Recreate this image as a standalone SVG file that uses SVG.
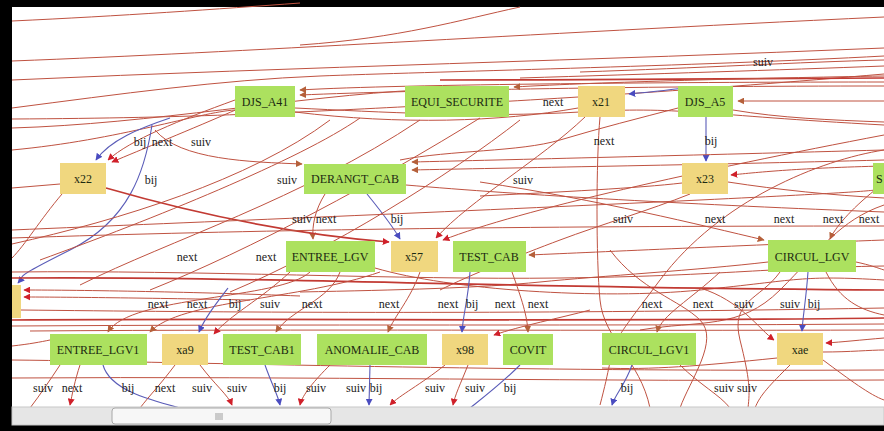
<svg xmlns="http://www.w3.org/2000/svg" width="884" height="431" viewBox="0 0 884 431">
<style>
.e{fill:none;stroke:#bf5241;stroke-width:1}
.eb{fill:none;stroke:#5a5cb8;stroke-width:1.1}
.et{fill:none;stroke:#c23a33;stroke-width:1.7}
.g{fill:#ace15f}
.y{fill:#f0d77f}
.n{font-family:"Liberation Serif","Times New Roman",serif;font-size:12px;fill:#1c2a12;text-anchor:middle}
.l{font-family:"Liberation Serif","Times New Roman",serif;font-size:12px;fill:#222;text-anchor:middle}
</style>
<defs>
<marker id="ar" viewBox="0 0 10 10" refX="9" refY="5" markerWidth="7" markerHeight="7" orient="auto" markerUnits="userSpaceOnUse"><path d="M0,0 L10,5 L0,10 z" fill="#d0202a"/></marker>
<marker id="ab" viewBox="0 0 10 10" refX="9" refY="5" markerWidth="7" markerHeight="7" orient="auto" markerUnits="userSpaceOnUse"><path d="M0,0 L10,5 L0,10 z" fill="#b5603a"/></marker>
<marker id="au" viewBox="0 0 10 10" refX="9" refY="5" markerWidth="7" markerHeight="7" orient="auto" markerUnits="userSpaceOnUse"><path d="M0,0 L10,5 L0,10 z" fill="#4a4cc0"/></marker>
</defs>
<rect x="0" y="0" width="884" height="431" fill="#000"/>
<rect x="12" y="7" width="872" height="401" fill="#fff"/>
<g id="connectors">
<path class="e" d="M12,21 C120,16 220,9 300,3"/>
<path class="e" d="M12,61 C250,52 500,35 884,17"/>
<path class="e" d="M300,45 C400,38 460,20 520,7"/>
<path class="e" d="M12,80 C300,67 600,60 884,48"/>
<path class="e" d="M12,108 C120,94 220,80 320,76 S700,66 884,56"/>
<path class="e" d="M12,119 C200,118 300,112 420,106 S700,90 884,74"/>
<path class="e" d="M580,72 C700,68 800,62 884,60"/>
<path class="e" d="M520,78 C650,74 780,70 884,66"/>
<path class="et" d="M440,80 C600,80 780,79 884,78"/>
<path class="e" d="M12,128 C150,124 300,96 420,90"/>
<path class="e" d="M884,101 L738,101" marker-end="url(#ab)"/>
<path class="e" d="M884,82 C700,82 400,84 300,90" marker-end="url(#ab)"/>
<path class="e" d="M884,86 C650,86 420,90 300,95" marker-end="url(#ab)"/>
<path class="e" d="M884,76 C760,78 600,82 514,87" marker-end="url(#ab)"/>
<path class="e" d="M295,108 C380,112 480,118 580,112 S700,115 884,125"/>
<path class="e" d="M295,112 C400,125 500,122 578,108"/>
<path class="e" d="M12,150 C120,140 200,112 235,110"/>
<path class="e" d="M678,108 C640,118 600,128 560,140 S450,150 400,160"/>
<path class="e" d="M733,110 C780,118 830,120 884,122"/>
<path class="eb" d="M690,87 C670,90 650,92 629,94" marker-end="url(#au)"/>
<path class="eb" d="M706,117 L706,161" marker-end="url(#au)"/>
<path class="e" d="M600,117 C596,160 596,260 600,300 S640,360 650,408"/>
<path class="e" d="M585,117 C540,160 470,200 436,238" marker-end="url(#ar)"/>
<path class="e" d="M884,135 C700,170 520,210 443,240" marker-end="url(#ar)"/>
<path class="eb" d="M367,194 C380,210 392,225 400,239" marker-end="url(#au)"/>
<path class="e" d="M325,194 C315,210 312,225 313,239" marker-end="url(#ab)"/>
<path class="e" d="M884,150 C700,155 500,160 412,162" marker-end="url(#ab)"/>
<path class="e" d="M884,160 C700,165 500,168 412,170" marker-end="url(#ab)"/>
<path class="e" d="M155,130 C180,160 250,162 302,164" marker-end="url(#ab)"/>
<path class="eb" d="M170,118 C140,128 110,140 96,160" marker-end="url(#au)"/>
<path class="e" d="M235,100 C180,120 130,140 108,160" marker-end="url(#ar)"/>
<path class="e" d="M240,108 C190,130 140,150 112,162" marker-end="url(#ar)"/>
<path class="eb" d="M152,125 C145,170 130,220 70,250 S25,275 18,283" marker-end="url(#au)"/>
<path class="et" d="M106,188 C200,215 300,235 389,242" marker-end="url(#ar)"/>
<path class="e" d="M60,184 L12,188"/>
<path class="e" d="M62,194 C40,220 25,245 12,258"/>
<path class="e" d="M406,185 C520,195 700,205 884,212"/>
<path class="e" d="M12,230 C200,222 450,212 700,200 S850,190 884,188"/>
<path class="e" d="M12,238 C250,230 500,226 884,226"/>
<path class="e" d="M12,244 C120,220 250,180 330,120"/>
<path class="e" d="M40,260 C150,220 300,160 360,118"/>
<path class="e" d="M80,285 C170,240 300,200 420,120"/>
<path class="e" d="M150,290 C250,250 380,180 480,118"/>
<path class="e" d="M230,292 C330,250 450,175 520,120"/>
<path class="e" d="M884,240 C750,245 600,252 529,255" marker-end="url(#ab)"/>
<path class="e" d="M480,182 C600,200 700,225 764,240" marker-end="url(#ab)"/>
<path class="e" d="M875,190 C850,210 835,228 830,239" marker-end="url(#ab)"/>
<path class="e" d="M884,166 C800,168 760,172 731,175" marker-end="url(#ar)"/>
<path class="e" d="M728,182 C780,190 830,195 884,198"/>
<path class="e" d="M682,183 C640,188 560,192 480,196"/>
<path class="e" d="M690,194 C650,210 600,225 560,240 S470,275 440,290"/>
<path class="e" d="M884,150 C820,160 720,200 660,280 S620,330 600,405"/>
<path class="e" d="M884,205 C840,220 820,250 780,290 S700,320 640,330"/>
<path class="e" d="M856,262 C870,265 878,268 884,270"/>
<path class="e" d="M768,262 C700,270 600,276 540,282 S400,290 300,292"/>
<path class="e" d="M375,268 C450,290 600,300 700,290 S800,275 884,280"/>
<path class="e" d="M12,272 C200,270 400,280 560,278 S760,268 884,266"/>
<path class="et" d="M12,278 C250,276 500,288 884,290"/>
<path class="e" d="M300,296 C200,292 80,290 24,290" marker-end="url(#ar)"/>
<path class="e" d="M250,300 C150,298 60,297 24,297" marker-end="url(#ar)"/>
<path class="e" d="M21,310 C200,312 500,315 884,308"/>
<path class="et" d="M12,320 C300,318 600,322 884,318"/>
<path class="e" d="M12,326 C300,324 600,326 884,324"/>
<path class="e" d="M30,331 C300,329 600,331 884,330"/>
<path class="e" d="M310,272 C280,300 130,295 108,332" marker-end="url(#ab)"/>
<path class="e" d="M380,272 C300,300 180,300 150,332" marker-end="url(#ab)"/>
<path class="eb" d="M228,288 C215,305 205,318 199,332" marker-end="url(#au)"/>
<path class="e" d="M290,272 C260,300 230,315 214,334" marker-end="url(#ar)"/>
<path class="e" d="M340,272 C330,300 290,310 276,332" marker-end="url(#ab)"/>
<path class="e" d="M420,272 C410,300 395,315 388,332" marker-end="url(#ab)"/>
<path class="eb" d="M470,272 C468,300 463,315 462,332" marker-end="url(#au)"/>
<path class="e" d="M512,272 C522,300 527,315 528,332" marker-end="url(#ab)"/>
<path class="e" d="M590,310 C560,318 520,326 494,335" marker-end="url(#ar)"/>
<path class="e" d="M720,272 C690,300 662,315 657,332" marker-end="url(#ab)"/>
<path class="e" d="M610,250 C640,290 680,300 700,320 S690,380 680,408"/>
<path class="eb" d="M808,272 C806,300 803,315 802,331" marker-end="url(#au)"/>
<path class="e" d="M700,288 C740,300 760,330 774,340" marker-end="url(#ar)"/>
<path class="e" d="M884,338 C860,340 842,342 826,343" marker-end="url(#ar)"/>
<path class="e" d="M826,272 C840,300 860,310 884,315"/>
<path class="e" d="M780,272 C760,300 730,300 740,340 S750,390 748,408"/>
<path class="e" d="M823,352 C850,352 870,350 884,350"/>
<path class="e" d="M777,358 C700,366 650,370 602,368"/>
<path class="e" d="M12,346 C30,344 40,342 50,340"/>
<path class="e" d="M12,360 C200,362 500,372 884,370"/>
<path class="e" d="M12,378 C300,376 600,382 884,380"/>
<path class="e" d="M80,365 C75,380 72,395 70,405" marker-end="url(#ar)"/>
<path class="eb" d="M103,365 C110,390 150,400 180,408"/>
<path class="e" d="M60,365 C50,380 40,395 30,408"/>
<path class="e" d="M200,365 C215,385 228,395 232,405" marker-end="url(#ar)"/>
<path class="e" d="M175,365 C160,385 150,395 140,408"/>
<path class="eb" d="M265,365 C272,385 278,395 280,405" marker-end="url(#au)"/>
<path class="e" d="M330,365 C315,380 302,395 300,405" marker-end="url(#ar)"/>
<path class="eb" d="M370,365 L369,405" marker-end="url(#au)"/>
<path class="e" d="M445,365 C420,385 400,395 390,405" marker-end="url(#ar)"/>
<path class="e" d="M468,365 C460,385 455,395 453,405" marker-end="url(#ar)"/>
<path class="eb" d="M520,365 C500,385 480,400 470,408"/>
<path class="eb" d="M632,365 C625,385 615,395 612,405" marker-end="url(#au)"/>
<path class="e" d="M680,365 C700,385 720,395 730,408"/>
<path class="e" d="M790,365 C770,385 760,395 755,408"/>
<path class="e" d="M823,360 C850,380 870,395 884,400"/>
</g>
<g id="labels">
<text class="l" x="553" y="106">next</text>
<text class="l" x="763" y="66">suiv</text>
<text class="l" x="140" y="146">bij</text>
<text class="l" x="162" y="146">next</text>
<text class="l" x="201" y="146">suiv</text>
<text class="l" x="604" y="145">next</text>
<text class="l" x="711" y="145">bij</text>
<text class="l" x="151" y="184">bij</text>
<text class="l" x="287" y="184">suiv</text>
<text class="l" x="523" y="184">suiv</text>
<text class="l" x="302" y="223">suiv</text>
<text class="l" x="326" y="223">next</text>
<text class="l" x="397" y="223">bij</text>
<text class="l" x="623" y="223">suiv</text>
<text class="l" x="715" y="223">next</text>
<text class="l" x="784" y="223">next</text>
<text class="l" x="833" y="223">next</text>
<text class="l" x="869" y="223">next</text>
<text class="l" x="187" y="261">next</text>
<text class="l" x="266" y="261">next</text>
<text class="l" x="158" y="308">next</text>
<text class="l" x="197" y="308">next</text>
<text class="l" x="235" y="308">bij</text>
<text class="l" x="270" y="308">suiv</text>
<text class="l" x="312" y="308">next</text>
<text class="l" x="389" y="308">next</text>
<text class="l" x="448" y="308">next</text>
<text class="l" x="472" y="308">bij</text>
<text class="l" x="505" y="308">next</text>
<text class="l" x="538" y="308">next</text>
<text class="l" x="652" y="308">next</text>
<text class="l" x="703" y="308">next</text>
<text class="l" x="744" y="308">suiv</text>
<text class="l" x="790" y="308">suiv</text>
<text class="l" x="814" y="308">bij</text>
<text class="l" x="43" y="392">suiv</text>
<text class="l" x="72" y="392">next</text>
<text class="l" x="128" y="392">bij</text>
<text class="l" x="165" y="392">next</text>
<text class="l" x="202" y="392">suiv</text>
<text class="l" x="237" y="392">suiv</text>
<text class="l" x="280" y="392">bij</text>
<text class="l" x="316" y="392">suiv</text>
<text class="l" x="356" y="392">suiv</text>
<text class="l" x="376" y="392">bij</text>
<text class="l" x="435" y="392">suiv</text>
<text class="l" x="475" y="392">suiv</text>
<text class="l" x="510" y="392">bij</text>
<text class="l" x="627" y="392">bij</text>
<text class="l" x="724" y="392">suiv</text>
<text class="l" x="747" y="392">suiv</text>
</g>
<g id="DJS_A41"><rect class="g" x="235" y="86" width="60" height="31"/><text class="n" x="265" y="106">DJS_A41</text></g>
<g id="EQUI_SECURITE"><rect class="g" x="405" y="86" width="104" height="31"/><text class="n" x="457" y="106">EQUI_SECURITE</text></g>
<g id="x21"><rect class="y" x="578" y="86" width="47" height="31"/><text class="n" x="601" y="106">x21</text></g>
<g id="DJS_A5"><rect class="g" x="678" y="86" width="55" height="31"/><text class="n" x="705" y="106">DJS_A5</text></g>
<g id="x22"><rect class="y" x="60" y="163" width="46" height="31"/><text class="n" x="83" y="183">x22</text></g>
<g id="DERANGT_CAB"><rect class="g" x="304" y="164" width="102" height="30"/><text class="n" x="355" y="183">DERANGT_CAB</text></g>
<g id="x23"><rect class="y" x="682" y="163" width="46" height="31"/><text class="n" x="705" y="183">x23</text></g>
<g id="S_partial"><rect class="g" x="873" y="163" width="20" height="31"/><text class="n" x="876" y="183" style="text-anchor:start">S</text></g>
<g id="ENTREE_LGV"><rect class="g" x="286" y="241" width="89" height="31"/><text class="n" x="330" y="261">ENTREE_LGV</text></g>
<g id="x57"><rect class="y" x="391" y="241" width="47" height="31"/><text class="n" x="414" y="261">x57</text></g>
<g id="TEST_CAB"><rect class="g" x="453" y="241" width="73" height="31"/><text class="n" x="489" y="261">TEST_CAB</text></g>
<g id="CIRCUL_LGV"><rect class="g" x="768" y="240" width="88" height="32"/><text class="n" x="812" y="261">CIRCUL_LGV</text></g>
<g id="left_partial"><rect class="y" x="12" y="285" width="9" height="33"/></g>
<g id="ENTREE_LGV1"><rect class="g" x="50" y="334" width="97" height="31"/><text class="n" x="98" y="354">ENTREE_LGV1</text></g>
<g id="xa9"><rect class="y" x="162" y="334" width="46" height="31"/><text class="n" x="185" y="354">xa9</text></g>
<g id="TEST_CAB1"><rect class="g" x="223" y="334" width="78" height="31"/><text class="n" x="262" y="354">TEST_CAB1</text></g>
<g id="ANOMALIE_CAB"><rect class="g" x="317" y="334" width="110" height="31"/><text class="n" x="372" y="354">ANOMALIE_CAB</text></g>
<g id="x98"><rect class="y" x="442" y="334" width="46" height="31"/><text class="n" x="465" y="354">x98</text></g>
<g id="COVIT"><rect class="g" x="503" y="334" width="50" height="31"/><text class="n" x="528" y="354">COVIT</text></g>
<g id="CIRCUL_LGV1"><rect class="g" x="602" y="333" width="94" height="32"/><text class="n" x="649" y="354">CIRCUL_LGV1</text></g>
<g id="xae"><rect class="y" x="777" y="333" width="46" height="32"/><text class="n" x="800" y="354">xae</text></g>
<g id="scrollbar">
<rect x="12" y="407" width="872" height="18" fill="#e6e6e6" stroke="#c8c8c8" stroke-width="1"/>
<rect x="112" y="408" width="219" height="16" rx="3" fill="#f7f7f7" stroke="#a8a8a8" stroke-width="1"/>
<path d="M216,413 V420 M218,413 V420 M220,413 V420 M222,413 V420" stroke="#888" stroke-width="0.8"/>
</g>
</svg>
